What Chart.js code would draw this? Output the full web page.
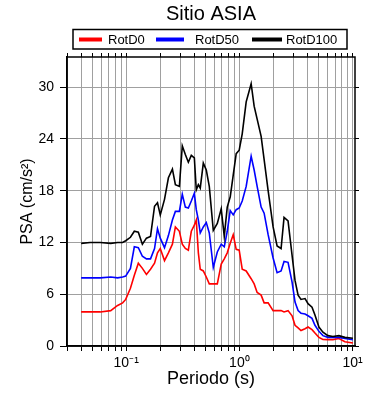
<!DOCTYPE html>
<html lang="es">
<head>
<meta charset="UTF-8">
<title>Sitio ASIA</title>
<script src="https://cdn.jsdelivr.net/npm/chart.js@4.4.0/dist/chart.umd.min.js"></script>
<style>
    html, body { margin: 0; padding: 0; background: #fff; }
    #wrap { width: 390px; height: 400px; }
</style>
</head>
<body>
<div id="wrap"><canvas id="psaChart" width="390" height="400"></canvas></div>
<script>
// Periodo (s)
var periods = [0.040, 0.048, 0.059, 0.073, 0.084, 0.093, 0.099, 0.109, 0.118, 0.128,
    0.139, 0.151, 0.164, 0.178, 0.189, 0.200, 0.218, 0.236, 0.256, 0.272,
    0.295, 0.313, 0.333, 0.354, 0.376, 0.400, 0.416, 0.434, 0.451, 0.480,
    0.510, 0.542, 0.588, 0.638, 0.691, 0.735, 0.781, 0.830, 0.882, 0.937,
    0.996, 1.059, 1.148, 1.27, 1.35, 1.435, 1.556, 1.654, 1.794, 1.985,
    2.153, 2.335, 2.48, 2.69, 2.92, 3.10, 3.30, 3.50, 3.80, 4.04,
    4.38, 4.65, 5.04, 5.47, 6.05, 6.70, 7.57, 8.55, 10.06];

// PSA (cm/s2)
var rotD0 = [3.95, 3.95, 3.95, 4.1, 4.7, 5.0, 5.4, 6.7, 8.2, 9.6,
    9.0, 8.3, 8.9, 9.6, 10.8, 11.3, 9.9, 10.8, 11.8, 13.8,
    13.3, 11.8, 11.3, 11.1, 13.3, 14.0, 14.6, 10.8, 8.9, 8.7,
    8.0, 7.2, 7.2, 7.2, 9.5, 10.1, 10.8, 11.9, 12.9, 11.2,
    11.1, 8.9, 8.7, 7.8, 7.2, 6.2, 5.9, 5.0, 5.0, 4.1,
    4.1, 4.1, 3.95, 4.1, 3.5, 2.4, 2.1, 1.8, 2.0, 2.2,
    1.9, 1.5, 1.0, 0.75, 0.74, 0.74, 0.86, 0.5, 0.35];

var rotD50 = [7.9, 7.9, 7.9, 8.0, 7.9, 8.0, 8.1, 9.0, 11.5, 11.4,
    10.4, 10.1, 10.1, 11.3, 13.6, 12.5, 11.4, 12.8, 14.6, 15.6,
    15.6, 17.6, 16.1, 16.0, 16.8, 17.7, 15.8, 14.6, 13.1, 13.8,
    14.3, 13.1, 9.1, 10.9, 11.8, 11.5, 13.3, 15.7, 15.2, 15.8,
    16.0, 16.8, 18.5, 22.0, 20.4, 18.5, 16.1, 15.4, 12.9, 10.2,
    8.5, 8.7, 9.8, 9.7, 7.4, 5.1, 4.1, 3.8, 3.7, 3.5,
    3.2, 2.4, 1.7, 1.2, 1.0, 1.0, 1.0, 0.86, 0.74];

var rotD100 = [11.9, 12.0, 12.0, 11.9, 12.0, 12.0, 12.2, 12.6, 13.3, 13.2,
    11.8, 12.5, 12.7, 16.2, 16.6, 15.2, 17.0, 19.5, 20.5, 18.7,
    18.5, 23.2, 22.2, 21.3, 22.1, 21.8, 18.1, 18.7, 18.3, 21.2,
    20.4, 18.5, 13.4, 14.2, 15.9, 12.7, 16.1, 17.3, 19.8, 22.3,
    22.7, 24.6, 28.3, 30.4, 27.8, 26.3, 24.3, 21.6, 18.0, 13.8,
    11.6, 11.3, 14.9, 14.5, 10.5, 7.6, 5.9, 5.4, 5.5, 4.9,
    4.5, 3.6, 2.2, 1.6, 1.2, 1.1, 1.2, 1.0, 0.9];

var seriesNames = ['RotD0', 'RotD50', 'RotD100'];
var seriesColors = ['#ff0000', '#0000ff', '#000000'];

var yTicks = [0, 6, 12, 18, 24, 30];
var xTicks = [0.03, 0.04, 0.05, 0.06, 0.07, 0.08, 0.09,
    0.1, 0.2, 0.3, 0.4, 0.5, 0.6, 0.7, 0.8, 0.9,
    1, 2, 3, 4, 5, 6, 7, 8, 9, 10];
var xTickLabels = { '0.1': '10\u207B\u00B9', '1': '10\u2070', '10': '10\u00B9' };

var FONT = "'Liberation Sans', Arial, Helvetica, sans-serif";
Chart.defaults.font.family = FONT;
Chart.defaults.color = '#000';

function toPoints(vals) {
    return periods.map(function (p, i) { return { x: p, y: vals[i] }; });
}

function setTicks(list) {
    return function (scale) {
        scale.ticks = list.map(function (v) { return { value: v }; });
    };
}

// frame, title and boxed legend
var framePlugin = {
    id: 'frame',
    afterDraw: function (chart) {
        var ctx = chart.ctx, a = chart.chartArea;
        ctx.save();
        ctx.strokeStyle = '#000';
        ctx.lineWidth = 1.5;
        ctx.strokeRect(a.left, a.top, a.right - a.left, a.bottom - a.top);

        ctx.fillStyle = '#000';
        ctx.font = '20px ' + FONT;
        ctx.textAlign = 'center';
        ctx.textBaseline = 'alphabetic';
        ctx.fillText('Sitio ASIA', 211, 19.5);

        ctx.lineWidth = 1.5;
        ctx.strokeRect(73, 29.5, 274, 19.5);

        var lines = [[79, 102], [156, 184], [252, 282]];
        var textX = [108, 195, 286];
        ctx.font = '13px ' + FONT;
        ctx.textAlign = 'left';
        for (var i = 0; i < seriesNames.length; i++) {
            ctx.strokeStyle = seriesColors[i];
            ctx.lineWidth = 4;
            ctx.beginPath();
            ctx.moveTo(lines[i][0], 39.5);
            ctx.lineTo(lines[i][1], 39.5);
            ctx.stroke();
            ctx.fillText(seriesNames[i], textX[i], 44);
        }
        ctx.restore();
    }
};

var series = [rotD0, rotD50, rotD100];
var datasets = series.map(function (vals, i) {
    return {
        label: seriesNames[i],
        data: toPoints(vals),
        borderColor: seriesColors[i],
        backgroundColor: seriesColors[i],
        borderWidth: 1.6,
        pointRadius: 0,
        tension: 0,
        fill: false,
        order: 3 - i
    };
});

var gridColor = '#a0a0a0';

new Chart(document.getElementById('psaChart'), {
    type: 'line',
    data: { datasets: datasets },
    options: {
        responsive: false,
        animation: false,
        layout: { padding: { top: 52, right: 30, bottom: 0, left: 0 } },
        plugins: {
            legend: { display: false },
            title: { display: false },
            tooltip: { enabled: false }
        },
        scales: {
            x: {
                type: 'logarithmic',
                position: 'bottom',
                min: 0.03,
                max: 10.5,
                afterBuildTicks: setTicks(xTicks),
                afterFit: function (s) { s.height = 54; },
                ticks: {
                    autoSkip: false,
                    maxRotation: 0,
                    padding: 4,
                    font: { size: 14 },
                    callback: function (v) { return xTickLabels[String(v)] || ''; }
                },
                grid: { color: gridColor, lineWidth: 1, tickColor: '#000', tickLength: 5 },
                border: { color: '#000', width: 1.5 },
                title: {
                    display: true,
                    text: 'Periodo (s)',
                    font: { size: 18 },
                    padding: { top: 0, bottom: 10 }
                }
            },
            x2: {
                type: 'logarithmic',
                position: 'top',
                min: 0.03,
                max: 10.5,
                afterBuildTicks: setTicks(xTicks),
                afterFit: function (s) { s.height = 5; },
                ticks: { display: false },
                grid: { drawOnChartArea: false, color: '#000', tickColor: '#000', tickLength: 4 },
                border: { display: false }
            },
            y: {
                type: 'linear',
                position: 'left',
                min: 0,
                max: 33.5,
                afterBuildTicks: setTicks(yTicks),
                afterFit: function (s) { s.width = 67; },
                ticks: { padding: 6, font: { size: 14 } },
                grid: { color: gridColor, lineWidth: 1, tickColor: '#000', tickLength: 7 },
                border: { color: '#000', width: 1.5 },
                title: {
                    display: true,
                    text: 'PSA (cm/s\u00B2)',
                    font: { size: 16 },
                    padding: { top: 18, bottom: 0 }
                }
            },
            y2: {
                type: 'linear',
                position: 'right',
                min: 0,
                max: 33.5,
                afterBuildTicks: setTicks(yTicks),
                afterFit: function (s) { s.width = 5; },
                ticks: { display: false },
                grid: { drawOnChartArea: false, color: '#000', tickColor: '#000', tickLength: 4 },
                border: { display: false }
            }
        }
    },
    plugins: [framePlugin]
});
</script>
</body>
</html>
